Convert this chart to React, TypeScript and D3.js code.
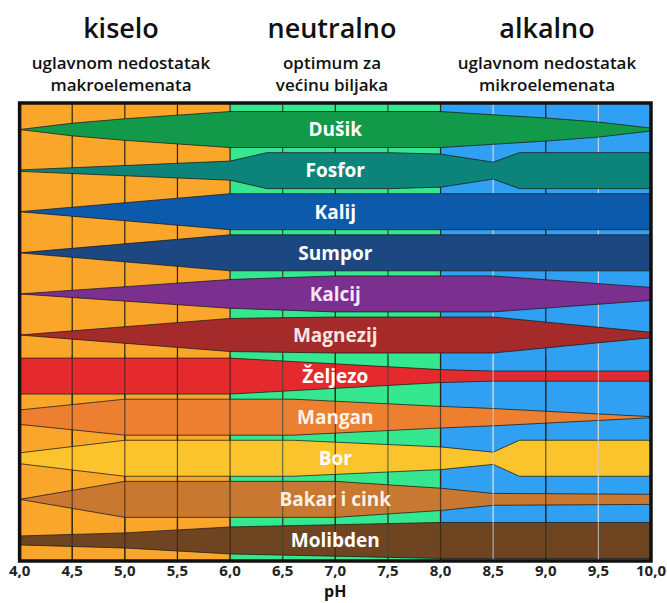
import * as d3 from 'd3';

// pH axis
const phTicks = [4, 4.5, 5, 5.5, 6, 6.5, 7, 7.5, 8, 8.5, 9, 9.5, 10];

// soil zones (background columns)
const zoneStarts = [4, 6, 8];
const zoneEnds = [6, 8, 10];
const zoneColors = ['#F9A62B', '#35E890', '#2FA0F2'];
const zoneTitles = ['kiselo', 'neutralno', 'alkalno'];
const zoneSub1 = ['uglavnom nedostatak', 'optimum za', 'uglavnom nedostatak'];
const zoneSub2 = ['makroelemenata', 'većinu biljaka', 'mikroelemenata'];

// elements, top to bottom
const elements = [
  'Dušik', 'Fosfor', 'Kalij', 'Sumpor', 'Kalcij', 'Magnezij',
  'Željezo', 'Mangan', 'Bor', 'Bakar i cink', 'Molibden',
];
const elementColors = [
  '#12994A', '#0C8479', '#0B5AAB', '#1D4780', '#7B2F8F', '#A52A2A',
  '#E52A2E', '#ED7F30', '#FBC42D', '#C87830', '#6F4421',
];
const labelColors = [
  '#ffffff', '#ffffff', '#ffffff', '#ffffff', '#f4e8f6', '#f6e6e0',
  '#ffffff', '#fbf3e6', '#ffffff', '#fbf1e0', '#ffffff',
];

// availability (relative band width) at given pH, per element
const availability: [number, number][][] = [
  [[4, 0], [4.5, 0.35], [5, 0.6], [5.5, 0.8], [6, 1], [8, 1], [9, 0.64], [9.5, 0.42], [10, 0.08]],
  [[4, 0.04], [6, 0.53], [6.35, 1], [7.5, 1], [8, 0.92], [8.5, 0.47], [8.75, 1], [10, 1]],
  [[4, 0], [6, 1], [10, 1]],
  [[4, 0], [6, 1], [10, 1]],
  [[4, 0], [6, 0.8], [7, 1], [8.5, 1], [10, 0.36]],
  [[4, 0], [6, 0.92], [7, 1], [8.5, 1], [10, 0.15]],
  [[4, 1], [6, 1], [8, 0.36], [8.5, 0.28], [10, 0.28]],
  [[4, 0.4], [5, 1], [6.6, 1], [8, 0.6], [8.5, 0.48], [10, 0.03]],
  [[4, 0.3], [5, 1], [6.6, 1], [8, 0.63], [8.5, 0.34], [8.75, 1], [10, 1]],
  [[4, 0], [5, 1], [7, 1], [8, 0.62], [8.5, 0.33], [10, 0.28]],
  [[4, 0.25], [5, 0.42], [6, 0.75], [8, 1], [10, 1]],
];

const W = 667;
const H = 603;
const FONT = '"Open Sans", "DejaVu Sans", sans-serif';

export default function App() {
  const x = d3.scaleLinear().domain([4, 10]).range([19.6, 651]);
  const y = d3.scaleBand<string>().domain(elements).range([109, 561]);
  const plotTop = 103;
  const plotBottom = 561;
  const half = 18;

  const gridColor = (v: number) => {
    if (v === 8.5 || v === 9.5) return '#c9d6e2';
    if (v === 6.5 || v === 7.5) return '#2f4a3a';
    return '#2a2418';
  };
  const inner = phTicks.filter((t) => t > 4 && t < 10);
  const lowerTop = y(elements[6]) ?? 0;

  const bandPath = (i: number) => {
    const cy = (y(elements[i]) ?? 0) + y.bandwidth() / 2;
    const area = d3
      .area<[number, number]>()
      .x((d) => x(d[0]))
      .y0((d) => cy - d[1] * half)
      .y1((d) => cy + d[1] * half)
      .curve(d3.curveLinear);
    return area(availability[i]) ?? '';
  };

  const gridLines = (y1: number, y2: number, key: string) =>
    inner.map((t) => (
      <line
        key={key + t}
        x1={x(t)}
        x2={x(t)}
        y1={y1}
        y2={y2}
        stroke={gridColor(t)}
        strokeWidth={1.2}
      />
    ));

  return (
    <svg
      width={W}
      height={H}
      style={{ position: 'absolute', left: 0, top: 0, background: '#fff' }}
      fontFamily={FONT}
    >
      {/* header */}
      {zoneTitles.map((t, i) => {
        const cx = [121, 332, 547][i];
        return (
          <g key={t}>
            <text x={cx} y={38} textAnchor="middle" fontSize={27} fontWeight={600} fill="#111">
              {t}
            </text>
            <text x={cx} y={69} textAnchor="middle" fontSize={17} fontWeight={600} fill="#111">
              {zoneSub1[i]}
            </text>
            <text x={cx} y={91} textAnchor="middle" fontSize={17} fontWeight={600} fill="#111">
              {zoneSub2[i]}
            </text>
          </g>
        );
      })}

      {/* background zones */}
      {zoneStarts.map((s, i) => (
        <rect
          key={'z' + i}
          x={x(s)}
          y={plotTop}
          width={x(zoneEnds[i]) - x(s)}
          height={plotBottom - plotTop}
          fill={zoneColors[i]}
        />
      ))}

      {gridLines(plotTop, plotBottom, 'g')}

      {/* element bands */}
      {elements.map((e, i) => (
        <path
          key={e}
          d={bandPath(i)}
          fill={elementColors[i]}
          stroke="#1a1a1a"
          strokeOpacity={0.75}
          strokeWidth={1}
        />
      ))}

      {/* grid shows through lower bands */}
      <g opacity={0.7}>{gridLines(lowerTop, plotBottom, 'u')}</g>

      {/* labels */}
      {elements.map((e, i) => (
        <text
          key={'l' + e}
          x={x(7)}
          y={(y(e) ?? 0) + y.bandwidth() / 2}
          dy="0.36em"
          textAnchor="middle"
          fontSize={19}
          fontWeight={700}
          fill={labelColors[i]}
        >
          {e}
        </text>
      ))}

      {/* frame */}
      <rect
        x={x(4)}
        y={plotTop}
        width={x(10) - x(4)}
        height={plotBottom - plotTop}
        fill="none"
        stroke="#111"
        strokeWidth={3.5}
      />

      {/* axis */}
      {phTicks.map((t) => (
        <text
          key={'t' + t}
          x={x(t)}
          y={576}
          textAnchor="middle"
          fontSize={15}
          fontWeight={700}
          fill="#222"
        >
          {d3.format('.1f')(t).replace('.', ',')}
        </text>
      ))}
      <text x={x(7)} y={597} textAnchor="middle" fontSize={16} fontWeight={700} fill="#111">
        pH
      </text>
    </svg>
  );
}
